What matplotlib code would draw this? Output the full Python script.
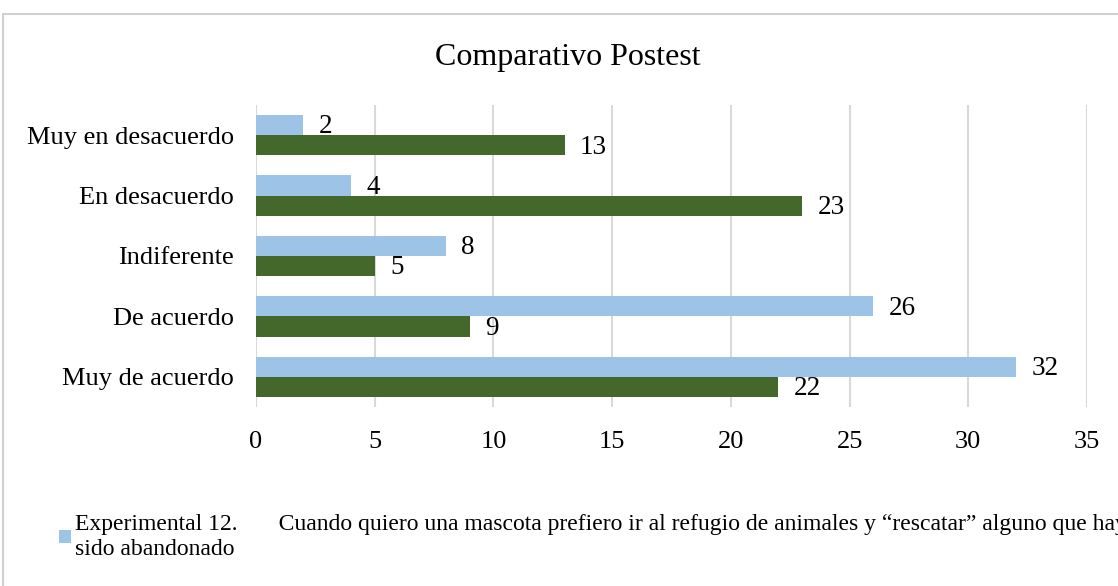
import matplotlib
matplotlib.use("Agg")
from matplotlib import pyplot as plt
from matplotlib.patches import Rectangle

categorias = ["Muy de acuerdo", "De acuerdo", "Indiferente", "En desacuerdo", "Muy en desacuerdo"]
experimental = [32, 26, 8, 4, 2]
control = [22, 9, 5, 23, 13]
leyenda_exp = ("Experimental 12.       Cuando quiero una mascota prefiero ir al refugio de animales "
               "y \u201crescatar\u201d alguno que haya\nsido abandonado")
xticks = [0, 5, 10, 15, 20, 25, 30, 35]

plt.rcParams['font.family'] = ['Liberation Serif', 'DejaVu Serif']

def main():
	fig = plt.figure(figsize=(11.18, 5.86), dpi=100)
	ax = fig.add_axes([256/1118, 1-407/586, (1087-256)/1118, (407-105)/586])

	y = list(range(len(categorias)))
	h = 0.335
	yb = [v + h/2 for v in y]
	yg = [v - h/2 for v in y]
	b1 = ax.barh(yb, experimental, height=h, color='#9dc3e6', label=leyenda_exp, zorder=3)
	b2 = ax.barh(yg, control, height=h, color='#44682b', zorder=3)

	for yy, v in zip(yb, experimental):
		ax.text(v + 0.65, yy - 0.03, str(v), va='center', ha='left', fontsize=19.5)
	for yy, v in zip(yg, control):
		ax.text(v + 0.65, yy - 0.03, str(v), va='center', ha='left', fontsize=19.5)

	ax.set_xlim(0, 35)
	ax.set_ylim(-0.5, len(categorias) - 0.5)
	ax.set_xticks(xticks)
	ax.set_yticks(y)
	ax.set_yticklabels(categorias)
	ax.tick_params(axis='both', length=0, labelsize=19)
	ax.tick_params(axis='x', pad=17)
	ax.tick_params(axis='y', pad=16)
	ax.grid(axis='x', color='#d9d9d9', linewidth=1.5, zorder=0)
	for s in ax.spines.values():
		s.set_visible(False)

	fig.text(568/1118, 1-57/586, "Comparativo Postest", ha='center', va='center', fontsize=23)

	# la leyenda se corta en el borde derecho, igual que en el original
	fig.legend(handles=[b1], labels=[leyenda_exp], loc='upper left',
	           bbox_to_anchor=(50/1118, 1-505/586), frameon=False, fontsize=17,
	           handlelength=0.5, handleheight=0.5, handletextpad=0.15, borderaxespad=0,
	           labelspacing=0.2)

	fig.patches.append(Rectangle((3/1118, -0.1), 1.2, 1.1 - 14/586, transform=fig.transFigure,
	                             fill=False, edgecolor='#d0d0d0', linewidth=1.5))

	fig.savefig("out.png", dpi=100)

if __name__ == '__main__':
	main()
